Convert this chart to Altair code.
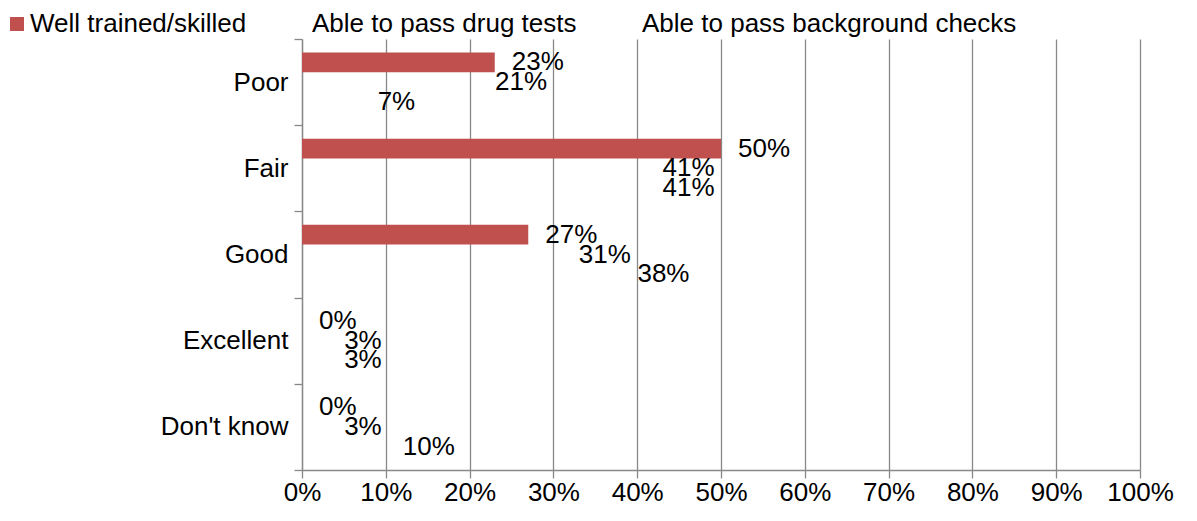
import altair as alt
import pandas as pd

categories = ["Poor", "Fair", "Good", "Excellent", "Don't know"]
series = ["Well trained/skilled", "Able to pass drug tests", "Able to pass background checks"]
well_trained = [0.23, 0.50, 0.27, 0.00, 0.00]
drug_tests = [0.21, 0.41, 0.31, 0.03, 0.03]
background = [0.07, 0.41, 0.38, 0.03, 0.10]
colors = ["#C0504D", "transparent", "transparent"]
x_ticks = [0, 0.1, 0.2, 0.3, 0.4, 0.5, 0.6, 0.7, 0.8, 0.9, 1.0]

rows = []
for name, vals in zip(series, [well_trained, drug_tests, background]):
    for cat, v in zip(categories, vals):
        rows.append({"category": cat, "series": name, "value": v})
df = pd.DataFrame(rows)

FONT = "Liberation Sans"
GRAY = "#888888"
FS = 26

x_enc = alt.X(
    "value:Q",
    scale=alt.Scale(domain=[0, 1], nice=False),
    axis=alt.Axis(
        format="%", values=x_ticks, grid=True, gridColor=GRAY, gridWidth=1.3,
        domainColor=GRAY, domainWidth=1.3, tickColor=GRAY, tickWidth=1.3, tickSize=8,
        labelFont=FONT, labelFontSize=FS, labelColor="black", labelPadding=1,
        labelFlush=False, labelOverlap=False,
    ),
    title=None,
)
y_enc = alt.Y(
    "category:N",
    sort=categories,
    scale=alt.Scale(paddingInner=0, paddingOuter=0),
    axis=alt.Axis(
        tickBand="extent", grid=False, domainColor=GRAY, domainWidth=1.3,
        tickColor=GRAY, tickWidth=1.3, tickSize=8,
        labelFont=FONT, labelFontSize=FS, labelColor="black", labelPadding=6,
    ),
    title=None,
)
yoff_enc = alt.YOffset(
    "series:N", sort=series,
    scale=alt.Scale(domain=series, paddingInner=0, paddingOuter=0.68),
)

base = alt.Chart(df)
bars = base.mark_bar().encode(
    x=x_enc,
    y=y_enc,
    yOffset=yoff_enc,
    color=alt.Color(
        "series:N",
        sort=series,
        scale=alt.Scale(domain=series, range=colors),
        legend=alt.Legend(
            title=None, orient="none", legendX=-298, legendY=-28,
            direction="horizontal", columns=3, symbolType="square", symbolSize=196,
            symbolStrokeWidth=0, labelFont=FONT, labelFontSize=FS, labelColor="black",
            columnPadding=39, labelOffset=0, labelLimit=600,
        ),
    ),
)
labels = base.mark_text(
    align="left", baseline="middle", dx=17, fontSize=FS, font=FONT, color="black"
).encode(
    x=x_enc,
    y=y_enc,
    yOffset=yoff_enc,
    text=alt.Text("value:Q", format=".0%"),
)

chart = (
    alt.layer(bars, labels)
    .properties(
        width=838, height=431,
        padding={"left": 294, "top": 31, "right": 45, "bottom": 39},
        autosize=alt.AutoSizeParams(type="none"),
    )
    .configure_view(stroke=None)
)
chart.save("out.html", embed_options={"renderer": "svg", "actions": False})
